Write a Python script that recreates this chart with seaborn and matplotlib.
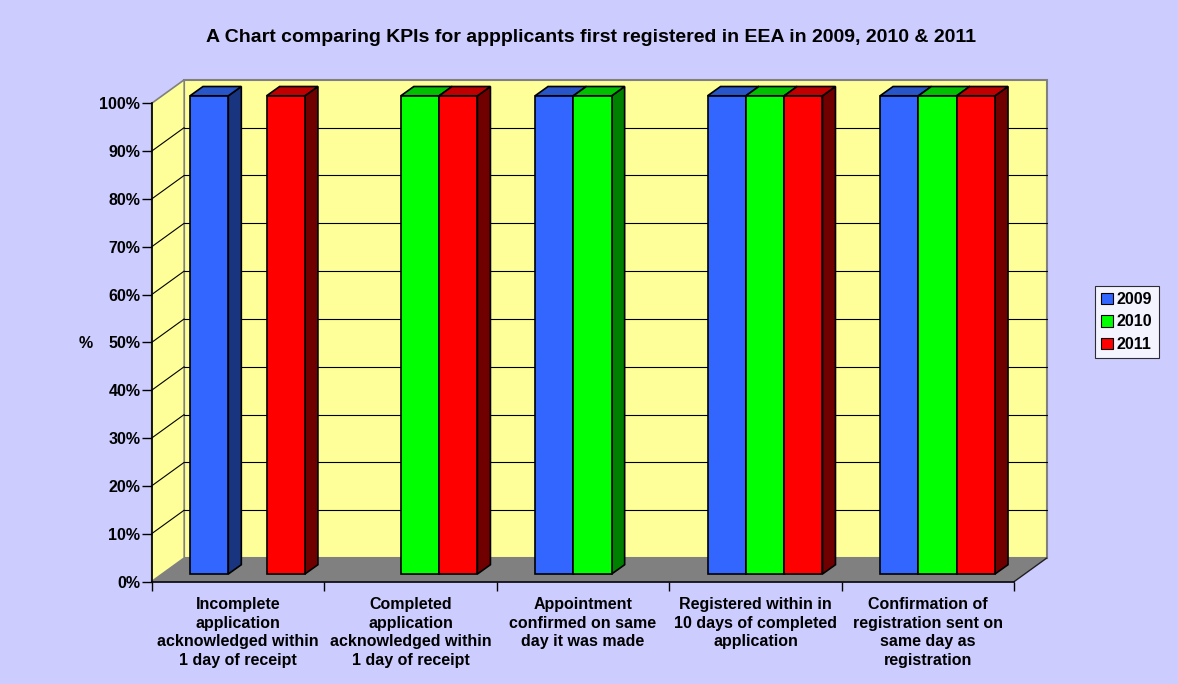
"""3D-style clustered column chart of registration KPIs (2009-2011)."""

import numpy as np
import pandas as pd
import matplotlib
matplotlib.use("Agg")
import matplotlib.pyplot as plt
import seaborn as sns
from matplotlib.patches import Polygon, Patch
from matplotlib.lines import Line2D
from matplotlib.transforms import ScaledTranslation

# ---- data ---------------------------------------------------------------
kpis = [
    "Incomplete\napplication\nacknowledged within\n1 day of receipt",
    "Completed\napplication\nacknowledged within\n1 day of receipt",
    "Appointment\nconfirmed on same\nday it was made",
    "Registered within in\n10 days of completed\napplication",
    "Confirmation of\nregistration sent on\nsame day as\nregistration",
]
years = ["2009", "2010", "2011"]
vals_2009 = [100, 0, 100, 100, 100]
vals_2010 = [0, 100, 100, 100, 100]
vals_2011 = [100, 100, 0, 100, 100]
yticks = list(range(0, 101, 10))

front_cols = ["#3366FF", "#00FF00", "#FF0000"]
top_cols = ["#2855C8", "#00C000", "#C00000"]
side_cols = ["#1A3580", "#008000", "#700000"]

df = pd.DataFrame({
    "kpi": kpis * 3,
    "year": [y for y in years for _ in kpis],
    "value": vals_2009 + vals_2010 + vals_2011,
})

# ---- figure -------------------------------------------------------------
sns.set_style("white")
plt.rcParams["font.family"] = ["Liberation Sans", "DejaVu Sans"]
plt.rcParams["font.weight"] = "bold"
plt.rcParams["text.color"] = "black"
plt.rcParams["xtick.color"] = "black"
plt.rcParams["ytick.color"] = "black"

W, H = 1178, 684
fig = plt.figure(figsize=(W / 100, H / 100), dpi=100, facecolor="#CCCCFF")
ax = fig.add_axes([151.7 / W, 1 - 581.5 / H, (1014.3 - 151.7) / W, (581.5 - 103.3) / H])
ax.patch.set_visible(False)
ax.set_xlim(-0.5, 4.5)
ax.set_ylim(0, 100)

WALL_D = (32.5, 23.5)   # depth of the box, px
BAR_OFF = (9.5, 7.5)    # bars sit a little into the box
BAR_D = (13.0, 9.3)     # bar depth


def fpt(x, y, off=(0, 0)):
    """data point + pixel offset -> figure fraction"""
    d = ax.transData.transform((x, y)) + np.asarray(off)
    return fig.transFigure.inverted().transform(d)


def poly(pts, **kw):
    p = Polygon(pts, closed=True, transform=fig.transFigure, clip_on=False, **kw)
    ax.add_patch(p)
    return p


def line(p0, p1, **kw):
    ax.add_line(Line2D([p0[0], p1[0]], [p0[1], p1[1]], transform=fig.transFigure,
                       clip_on=False, **kw))


# walls and floor
x0, x1 = -0.5, 4.5
poly([fpt(x0, 0, WALL_D), fpt(x1, 0, WALL_D), fpt(x1, 100, WALL_D), fpt(x0, 100, WALL_D)],
     facecolor="#FFFF99", edgecolor="#808080", lw=1.5, zorder=0.1)
poly([fpt(x0, 0), fpt(x0, 100), fpt(x0, 100, WALL_D), fpt(x0, 0, WALL_D)],
     facecolor="#FFFF99", edgecolor="#808080", lw=1.2, zorder=0.1)
for v in yticks[1:-1]:
    line(fpt(x0, v), fpt(x0, v, WALL_D), color="black", lw=0.8, zorder=0.3)
    line(fpt(x0, v, WALL_D), fpt(x1, v, WALL_D), color="black", lw=0.8, zorder=0.3)
poly([fpt(x0, 0), fpt(x1, 0), fpt(x1, 0, WALL_D), fpt(x0, 0, WALL_D)],
     facecolor="#808080", edgecolor="none", zorder=0.4)
line(fpt(x1, 0), fpt(x1, 0, WALL_D), color="#202020", lw=1, zorder=0.5)

# bars
sns.barplot(data=df, x="kpi", y="value", hue="year", hue_order=years,
            palette=front_cols, width=0.666, edgecolor="black", linewidth=1.2,
            saturation=1, legend=False, ax=ax, zorder=3)

shift = ax.transData + ScaledTranslation(BAR_OFF[0] / 100, BAR_OFF[1] / 100, fig.dpi_scale_trans)

bars = []
for i, cont in enumerate(ax.containers):
    for b in cont:
        if b.get_height() <= 0:
            b.set_visible(False)
            continue
        b.set_transform(shift)
        b.set_clip_on(False)
        bars.append((b.get_x(), b.get_width(), b.get_height(), i))

back = (BAR_OFF[0] + BAR_D[0], BAR_OFF[1] + BAR_D[1])
for bx, bw, bh, i in sorted(bars):
    xr = bx + bw
    poly([fpt(xr, 0, BAR_OFF), fpt(xr, bh, BAR_OFF), fpt(xr, bh, back), fpt(xr, 0, back)],
         facecolor=side_cols[i], edgecolor="black", lw=1.2, zorder=2)
    poly([fpt(bx, bh, BAR_OFF), fpt(xr, bh, BAR_OFF), fpt(xr, bh, back), fpt(bx, bh, back)],
         facecolor=top_cols[i], edgecolor="black", lw=1.2, zorder=2)

# axes, ticks
for s in ["top", "right"]:
    ax.spines[s].set_visible(False)
for s in ["left", "bottom"]:
    ax.spines[s].set_color("black")
    ax.spines[s].set_linewidth(1.2)
    ax.spines[s].set_zorder(5)

ax.set_yticks(yticks)
ax.set_yticklabels([f"{v}%" for v in yticks], fontsize=11.5, fontweight="bold")
ax.tick_params(axis="y", direction="out", length=7.2, width=1, pad=1, left=True)
ax.set_xticks(range(len(kpis)))
ax.set_xticklabels(kpis, fontsize=11.5, fontweight="bold", linespacing=1.32)
ax.tick_params(axis="x", which="major", length=0, pad=11)
ax.set_xticks(np.arange(-0.5, 5, 1), minor=True)
ax.tick_params(axis="x", which="minor", direction="out", length=6.5, width=1, bottom=True)
ax.set_xlabel("")
ax.set_ylabel("")

fig.text(86 / W, 1 - 343 / H, "%", ha="center", va="center", fontsize=11.5, fontweight="bold")
fig.text(591 / W, 1 - 38 / H,
         "A Chart comparing KPIs for appplicants first registered in EEA in 2009, 2010 & 2011",
         ha="center", va="center", fontsize=14, fontweight="bold")

handles = [Patch(facecolor=c, edgecolor="black", lw=0.8, label=y) for c, y in zip(front_cols, years)]
leg = fig.legend(handles=handles, loc="center left", bbox_to_anchor=(1095 / W, 1 - 322 / H),
                 frameon=True, fancybox=False, handlelength=0.7, handleheight=0.7,
                 handletextpad=0.25, labelspacing=0.45, borderpad=0.4, borderaxespad=0,
                 prop={"weight": "bold", "size": 11.5})
leg.get_frame().set_edgecolor("black")
leg.get_frame().set_linewidth(0.8)

fig.savefig("out.png", dpi=100, facecolor=fig.get_facecolor())
